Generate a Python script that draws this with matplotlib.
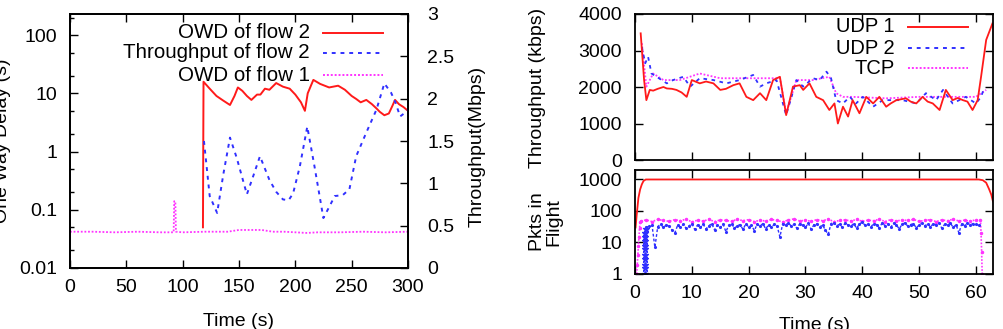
import numpy as np
import matplotlib
matplotlib.use("Agg")
import matplotlib.pyplot as plt
from matplotlib.lines import Line2D
from matplotlib.ticker import FixedLocator, LogLocator, NullFormatter, FuncFormatter

plt.rcParams['font.family'] = ['Liberation Sans', 'DejaVu Sans']
plt.rcParams['font.size'] = 14

# --- left chart: OWD (s, log) and throughput (Mbps) ---
owd2_t = [118, 118.5, 124, 130, 136, 142, 146, 149, 153, 157, 161, 166, 169, 173, 177, 183, 189,
          195, 200, 205, 208.5, 211, 216, 222, 230, 238, 244, 250, 254, 258, 263, 268, 272, 275,
          279, 283, 286, 288.5, 292, 296, 300]
owd2 = [0.05, 15.8, 12, 9, 7.5, 6.3, 9, 12.6, 11, 9, 7.7, 9.5, 9.5, 12, 11.5, 15, 13,
        12, 9.5, 7, 5.0, 10, 17, 14.5, 12.6, 13.5, 11.5, 9, 8, 7, 7.7, 6.5, 5.5, 4.8,
        4.2, 4.5, 6, 7.7, 6.5, 5.8, 5]

thr2_t = [118.9, 124, 130.6, 136, 142, 148, 157, 163, 168.6, 177, 183, 189, 194, 198, 204, 210.6,
          217, 224.9, 230, 235, 242, 248, 254, 263, 272, 279, 285, 289, 293, 297, 300]
thr2 = [1.50, 0.85, 0.65, 1.1, 1.54, 1.3, 0.87, 1.1, 1.32, 1.04, 0.9, 0.81, 0.8, 0.88, 1.2, 1.67,
        1.2, 0.59, 0.72, 0.85, 0.86, 0.93, 1.32, 1.6, 1.87, 2.18, 2.07, 1.95, 1.79, 1.83, 1.87]

owd1_t = [0, 20, 40, 60, 80, 92, 92.5, 93.5, 94, 100, 120, 140, 150, 160, 170, 180, 190,
          200, 210, 220, 240, 260, 280, 300]
owd1 = [0.042, 0.042, 0.041, 0.042, 0.041, 0.041, 0.14, 0.14, 0.042, 0.041, 0.042, 0.042, 0.045,
        0.045, 0.045, 0.042, 0.042, 0.041, 0.040, 0.041, 0.041, 0.042, 0.041, 0.042]

# --- right top: throughput (kbps) ---
udp1_t = [1, 1.6, 2, 2.6, 3.2, 4, 5, 5.6, 6.5, 7.3,
          8.2, 9.1, 10, 11.4, 12.5, 13.8, 15, 16, 17.3, 18.4,
          19.6, 20.8, 22, 23.1, 24.3, 25.5, 26.6, 27.8, 29, 29.6,
          30.7, 31.9, 33.1, 34.2, 35.1, 35.7, 36.6, 37.5, 38.3, 39.5,
          40.7, 41.9, 43.0, 44.2, 45, 46, 47.7, 48.5, 49.5, 50.6,
          51.5, 52.4, 53.6, 54.7, 55.9, 56.8, 57.7, 58.5, 59.4, 60.3,
          60.9, 61.8, 62.9]
udp1 = [3470, 2190, 1640, 1920, 1900, 1950, 2000, 1960, 1950, 1920,
        1850, 1730, 2190, 2100, 2150, 2100, 1920, 1950, 2050, 2100,
        1730, 1640, 1830, 1640, 2190, 2280, 1230, 2010, 2050, 1920,
        2100, 1730, 1640, 1370, 1550, 1000, 1460, 1190, 1640, 1280,
        1730, 1550, 1730, 1460, 1550, 1640, 1690, 1600, 1550, 1730,
        1600, 1550, 1370, 1920, 1640, 1700, 1640, 1600, 1370, 1640,
        2280, 3290, 3740]

udp2_t = [1.2, 1.8, 2.3, 2.9, 3.8, 5.6, 6.7, 8.5, 9.7, 11.4,
          13.8, 16.1, 18.4, 20.8, 22, 23.1, 24.9, 26.6, 28.4, 29.6,
          31.3, 32.5, 33.7, 34.5, 35.4, 36.6, 37.8, 38.9, 40.1, 41.9,
          43.6, 45.4, 47.1, 49.5, 51.2, 53, 54.2, 55.9, 58.2, 60,
          60.9, 61.5]
udp2 = [3100, 2650, 2830, 2370, 2280, 2100, 2190, 2280, 2010, 2240,
        2190, 2100, 2190, 2330, 2010, 2100, 2190, 1230, 2190, 2010,
        2240, 2190, 2420, 2240, 1640, 1550, 1730, 1550, 1730, 1460,
        1640, 1640, 1640, 1550, 1830, 1640, 1920, 1550, 1730, 1550,
        1730, 2000]

tcp_t = [1.2, 2, 3.2, 5, 7.9, 11.4, 15, 18.4, 22, 25.5,
         26.6, 28.4, 31.3, 34.2, 35.4, 36.6, 38.3, 44.2, 50, 55.9,
         60, 61.8]
tcp = [3200, 2010, 2370, 2190, 2190, 2370, 2240, 2240, 2240, 2240,
       1280, 2190, 2190, 2280, 1830, 1730, 1730, 1690, 1730, 1730,
       1730, 1920]

# --- right bottom: packets in flight ---
pk_red_t = [0.1, 0.3, 0.6, 0.9, 1.2, 1.5, 1.9, 10, 20, 30, 40, 50, 60.5, 61.2, 61.8, 62.3, 62.7, 63]
pk_red = [30, 76, 260, 480, 700, 900, 1000, 1000, 1000, 1000, 1000, 1000, 1000, 950, 790, 500, 330, 200]

pk_tcp_ramp_t = [0.3, 0.4, 0.5, 0.6, 0.7, 0.8, 0.9]
pk_tcp_ramp = [1, 2, 4, 8, 15, 28, 45]
pk_tcp_t = np.arange(1, 61, 1.0)
pk_tcp = [48, 52, 46, 54, 50, 47, 53, 49, 55, 45,
          51, 48, 54, 46, 52, 50, 47, 55, 49, 53,
          46, 51, 48, 54, 50, 45, 52, 56, 48, 51,
          47, 53, 49, 55, 46, 50, 52, 48, 54, 47,
          51, 49, 55, 46, 53, 48, 52, 50, 54, 47,
          50, 53, 46, 52, 49, 55, 48, 51, 47, 53]
pk_tcp_end_t = [60.8, 60.9, 61.0, 61.1]
pk_tcp_end = [50, 20, 5, 1]

pk_udp2_ramp_t = [1.75, 1.76, 1.77, 1.78, 1.79, 1.8, 1.81, 1.82, 1.83, 1.84, 1.85]
pk_udp2_ramp = [1, 1.5, 2, 3, 4, 6, 8, 11, 15, 20, 27]
pk_udp2_t = np.arange(2.0, 61.0, 0.5)
pk_udp2 = [30, 33, 35, 7, 32, 38, 30, 36, 34, 25,
           20, 35, 30, 38, 28, 33, 40, 26, 36, 30,
           38, 27, 34, 40, 25, 36, 30, 38, 22, 35,
           40, 28, 34, 37, 26, 39, 31, 35, 24, 38,
           33, 40, 27, 36, 30, 38, 34, 15, 40, 36,
           42, 33, 38, 28, 40, 35, 30, 41, 26, 37,
           39, 31, 36, 25, 18, 40, 43, 34, 38, 30,
           42, 36, 33, 40, 28, 39, 44, 35, 38, 31,
           40, 37, 29, 42, 34, 39, 30, 41, 36, 27,
           38, 42, 33, 37, 40, 29, 36, 41, 34, 39,
           31, 40, 36, 43, 28, 38, 35, 41, 30, 37,
           20, 39, 34, 42, 36, 40, 38, 35]

RED = '#ff1a1a'
BLUE = '#3030ff'
MAG = '#ff33ff'

W, H = 1004, 329
fig = plt.figure(figsize=(W / 100, H / 100), dpi=100)


def rect(x0, y0, x1, y1):
    return [x0 / W, 1 - y1 / H, (x1 - x0) / W, (y1 - y0) / H]


def style(ax, lpad=9.4):
    for s in ax.spines.values():
        s.set_linewidth(1.3)
    ax.tick_params(which='both', direction='in', top=True, width=1.0)
    ax.tick_params(which='major', length=6)
    ax.tick_params(which='minor', length=3)
    ax.tick_params(axis='y', pad=lpad)
    ax.tick_params(axis='x', pad=8)


gfmt = FuncFormatter(lambda v, p: '%g' % v)

# left chart
ax1 = fig.add_axes(rect(70, 14, 408, 268))
ax1.plot(owd1_t, owd1, color=MAG, lw=1.3, ls=(0, (1, 1)))
ax1.plot(owd2_t, owd2, color=RED, lw=1.4)
ax1.set_yscale('log')
ax1.set_ylim(0.01, 230)
ax1.set_xlim(0, 300)
ax1.set_xticks(range(0, 301, 50))
ax1.yaxis.set_major_locator(FixedLocator([0.01, 0.1, 1, 10, 100]))
ax1.yaxis.set_major_formatter(gfmt)
ax1.yaxis.set_minor_locator(LogLocator(base=10, subs=[2, 5]))
ax1.yaxis.set_minor_formatter(NullFormatter())
style(ax1)
ax1.tick_params(axis='y', right=False, which='both')

ax2 = ax1.twinx()
ax2.plot(thr2_t, thr2, color=BLUE, lw=1.4, ls=(0, (2, 2.5)))
ax2.set_ylim(0, 3)
ax2.set_yticks(np.arange(0, 3.01, 0.5))
ax2.yaxis.set_major_formatter(gfmt)
ax2.tick_params(which='both', direction='in', length=6, width=1.0, pad=13.7)
for s in ax2.spines.values():
    s.set_linewidth(1.3)

fig.text(3 / W, 1 - 141 / H, 'One Way Delay (s)', rotation=90, ha='center', va='center')
fig.text(477 / W, 1 - 146 / H, 'Throughput(Mbps)', rotation=90, ha='center', va='center')
fig.text(239 / W, 1 - 322 / H, 'Time (s)', ha='center', va='center')

# manual legend (gnuplot style)
leg1 = [('OWD of flow 2', RED, '-', 33),
        ('Throughput of flow 2', BLUE, (0, (2, 2.5)), 53),
        ('OWD of flow 1', MAG, (0, (1, 1)), 75)]
for lab, c, ls, y in leg1:
    fig.text(310 / W, 1 - y / H, lab, ha='right', va='center', fontsize=14.8)
    fig.add_artist(Line2D([323 / W, 383 / W], [1 - y / H, 1 - y / H], color=c, ls=ls, lw=1.4,
                          transform=fig.transFigure))

# right top chart
ax3 = fig.add_axes(rect(635, 14, 993, 160))
ax3.plot(tcp_t, tcp, color=MAG, lw=1.3, ls=(0, (1, 1)))
ax3.plot(udp2_t, udp2, color=BLUE, lw=1.3, ls=(0, (2, 2.5)))
ax3.plot(udp1_t, udp1, color=RED, lw=1.3)
ax3.set_xlim(0, 63)
ax3.set_ylim(0, 4000)
ax3.set_xticks(range(0, 61, 10))
ax3.set_yticks(range(0, 4001, 1000))
ax3.set_xticklabels([])
style(ax3)
ax3.tick_params(which='both', right=True)

leg2 = [('UDP 1', RED, '-', 27),
        ('UDP 2', BLUE, (0, (2, 2.5)), 48),
        ('TCP', MAG, (0, (1, 1)), 68)]
for lab, c, ls, y in leg2:
    fig.text(895 / W, 1 - y / H, lab, ha='right', va='center', fontsize=14.5)
    fig.add_artist(Line2D([908 / W, 968 / W], [1 - y / H, 1 - y / H], color=c, ls=ls, lw=1.4,
                          transform=fig.transFigure))

fig.text(538 / W, 1 - 88 / H, 'Throughput (kbps)', rotation=90, ha='center', va='center')

# right bottom chart
ax4 = fig.add_axes(rect(635, 170, 993, 274))
ax4.plot(pk_red_t, pk_red, color=RED, lw=1.3)
ax4.plot(pk_tcp_ramp_t + list(pk_tcp_t) + pk_tcp_end_t, pk_tcp_ramp + pk_tcp + pk_tcp_end,
         color=MAG, lw=1.2, ls=(0, (1, 1)), marker='.', ms=3)
ax4.plot(pk_udp2_ramp_t, pk_udp2_ramp, color=BLUE, lw=0, marker='*', ms=5)
ax4.plot(list(pk_udp2_t), pk_udp2, color=BLUE, lw=1.0, ls=(0, (2, 1.5)), marker='.', ms=2.5)
ax4.set_yscale('log')
ax4.set_xlim(0, 63)
ax4.set_ylim(1, 2000)
ax4.set_xticks(range(0, 61, 10))
ax4.yaxis.set_major_locator(FixedLocator([1, 10, 100, 1000]))
ax4.yaxis.set_major_formatter(gfmt)
ax4.yaxis.set_minor_locator(LogLocator(base=10, subs=range(2, 10)))
ax4.yaxis.set_minor_formatter(NullFormatter())
style(ax4)
ax4.tick_params(which='both', right=True)

fig.text(546 / W, 1 - 222 / H, 'Pkts in\nFlight', rotation=90, ha='center', va='center',
         linespacing=0.95, multialignment='center')
fig.text(815 / W, 1 - 326 / H, 'Time (s)', ha='center', va='center')

fig.savefig('out.png', dpi=100)
